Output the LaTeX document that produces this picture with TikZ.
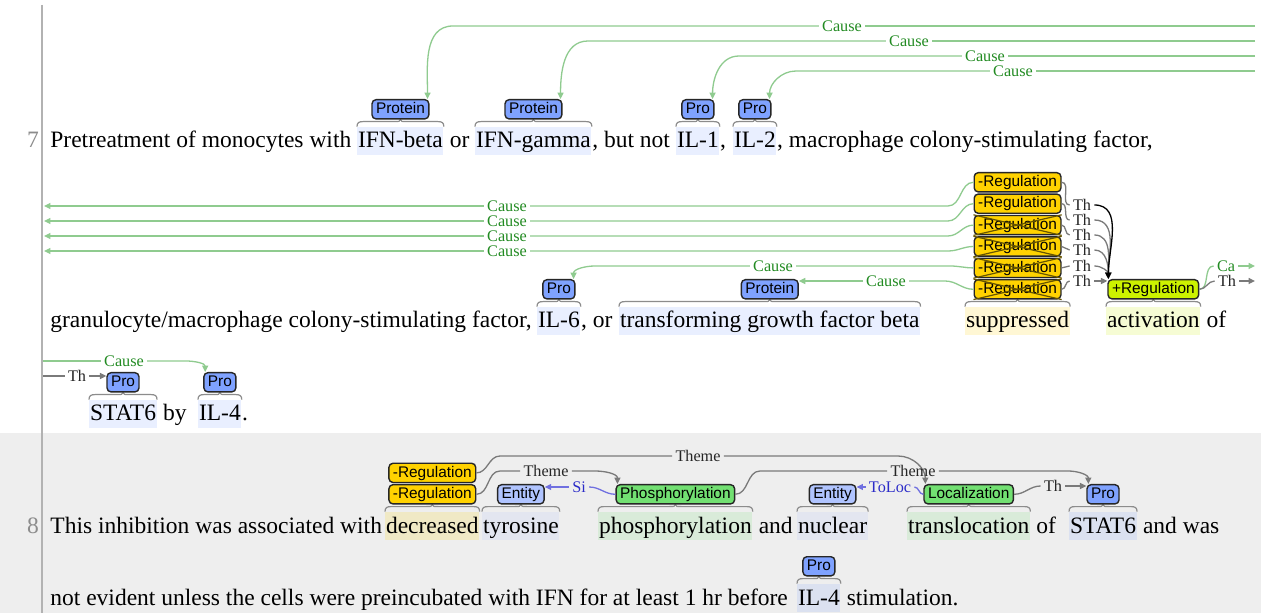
\documentclass[tikz,border=0pt]{standalone}
\usepackage{fontspec}
\setmainfont{Liberation Serif}
\newfontfamily\boxfont{Liberation Sans}
\usetikzlibrary{positioning,calc,arrows.meta}
\definecolor{prot}{HTML}{7FA2FF}
\definecolor{ent}{HTML}{B0C4FF}
\definecolor{neg}{HTML}{FFD200}
\definecolor{pos}{HTML}{CCF200}
\definecolor{evt}{HTML}{72E072}
\definecolor{bggray}{HTML}{EEEEEE}
\definecolor{boxline}{HTML}{262626}
\definecolor{causeln}{HTML}{8FCB8F}
\definecolor{causetxt}{HTML}{228B22}
\definecolor{thln}{HTML}{7A7A7A}
\definecolor{siteln}{HTML}{7070E0}
\definecolor{sitetxt}{HTML}{2B2BC8}
\begin{document}
\begin{tikzpicture}[x=.5pt,y=-.5pt,font=\fontsize{11.75pt}{14pt}\selectfont,
	>={Triangle[length=3.2pt,width=3pt]},
	txt/.style={inner sep=0pt,anchor=base west},
	hl/.style={txt,inner xsep=.3pt,text height=10.5pt,text depth=3.5pt,fill=#1,fill opacity=.17,text opacity=1},
	lbl/.style={draw=boxline,fill=#1,rounded corners=2pt,line width=.7pt,inner xsep=2pt,inner ysep=0pt,minimum height=9.6pt,text height=5.7pt,text depth=1.5pt,font=\boxfont\fontsize{7.7pt}{8pt}\selectfont},
	curly/.style={draw=black!45,line width=.6pt},
	cross/.style={draw=black!60!neg,line width=.6pt},
	cause/.style={draw=causeln,line width=.65pt},
	th/.style={draw=thln,line width=.65pt},
	site/.style={draw=siteln,line width=.65pt},
	causelbl/.style={inner sep=1.5pt,text=causetxt,font=\fontsize{8.1pt}{9pt}\selectfont},
	thlbl/.style={causelbl,text=black!85},
	silbl/.style={causelbl,text=sitetxt}]
	\useasboundingbox(0,0)rectangle(1261,613);
	\fill[white](0,0)rectangle(1261,433);
	\fill[bggray](0,433)rectangle(1261,613);
	\draw[black!30,line width=1pt](42,5)--(42,613);
	\node[text=black!45,anchor=base](n7)at(33,148){7};
	\node[text=black!45,anchor=base](n8)at(33,533){8};
	% sentence 7
	\node[txt](t1)at(50,148){Pretreatment of monocytes with};
	\node[hl=prot](ifnb)at(357,148){IFN-beta};
	\node[txt,base right=2.8pt of ifnb](t2){or};
	\node[hl=prot](ifng)at(475,148){IFN-gamma};
	\node[txt,base right=0pt of ifng](t3){, but not};
	\node[hl=prot](il1)at(676,148){IL-1};
	\node[txt,base right=0pt of il1](t4){,};
	\node[hl=prot](il2)at(733,148){IL-2};
	\node[txt,base right=0pt of il2](t5){, macrophage colony-stimulating factor,};
	\node[txt](t6)at(50,328){granulocyte/macrophage colony-stimulating factor,};
	\node[hl=prot](il6)at(537,328){IL-6};
	\node[txt,base right=0pt of il6](t7){, or};
	\node[hl=prot](tgf)at(619,328){transforming growth factor beta};
	\node[hl=neg](supp)at(965,328){suppressed};
	\node[hl=pos](actv)at(1106,328){activation};
	\node[txt,base right=2.8pt of actv](t8){of};
	\node[hl=prot](stat)at(89,421){STAT6};
	\node[txt,base right=2.8pt of stat](t9){by};
	\node[hl=prot](il4)at(198,421){IL-4};
	\node[txt,base right=0pt of il4](t10){.};
	% sentence 8
	\node[txt](t11)at(50,533){This inhibition was associated with};
	\node[hl=neg](decr)at(385,533){decreased};
	\node[hl=ent](tyro)at(482,533){tyrosine};
	\node[hl=evt](phos)at(598,533){phosphorylation};
	\node[txt,base right=2.8pt of phos](t12){and};
	\node[hl=ent](nucl)at(797,533){nuclear};
	\node[hl=evt](trans)at(907,533){translocation};
	\node[txt,base right=2.8pt of trans](t13){of};
	\node[hl=prot](stat2)at(1069,533){STAT6};
	\node[txt,base right=2.8pt of stat2](t14){and was};
	\node[txt](t15)at(50,605){not evident unless the cells were preincubated with IFN for at least 1 hr before};
	\node[hl=prot](il4b)at(797,605){IL-4};
	\node[txt,base right=2.8pt of il4b](t16){stimulation.};
	\foreach\n in {ifnb,ifng,il1,il2,il6,tgf,supp,actv,stat,il4,decr,tyro,phos,nucl,trans,stat2,il4b}{%
	\draw[curly](\n.north west).. controls +(0pt,2pt) and +(-2pt,0pt) ..++(3pt,2.5pt)--($(\n.north)+(-3pt,2.5pt)$)
		.. controls +(2pt,0pt) and +(0pt,-1pt) ..($(\n.north)+(0pt,3.5pt)$)
		.. controls +(0pt,-1pt) and +(-2pt,0pt) ..($(\n.north)+(3pt,2.5pt)$)--($(\n.north east)+(-3pt,2.5pt)$)
		.. controls +(2pt,0pt) and +(0pt,2pt) ..(\n.north east);}
	% boxes
	\node[lbl=prot,above=3.5pt of ifnb](pb1){Protein};
	\node[lbl=prot,above=3.5pt of ifng](pb2){Protein};
	\node[lbl=prot,above=3.5pt of il1](pb3){Pro};
	\node[lbl=prot,above=3.5pt of il2](pb4){Pro};
	\node[lbl=prot,above=3.5pt of il6](pb5){Pro};
	\node[lbl=prot,above=3.5pt of tgf](pb6){Protein};
	\node[lbl=neg,above=3.5pt of supp](R6){-Regulation};
	\foreach\i/\j in {5/6,4/5,3/4,2/3,1/2}{\node[lbl=neg,above=.4pt of R\j](R\i){-Regulation};}
	\foreach\i in {3,...,6}{\draw[cross](R\i.north west)--(R\i.south east)(R\i.south west)--(R\i.north east);}
	\node[lbl=pos,above=3.5pt of actv](pr){+Regulation};
	\node[lbl=prot,above=3.5pt of stat](pb7){Pro};
	\node[lbl=prot,above=3.5pt of il4](pb8){Pro};
	\node[lbl=neg,above=3.5pt of decr](RB){-Regulation};
	\node[lbl=neg,above=.4pt of RB](RA){-Regulation};
	\node[lbl=ent,above=3.5pt of tyro](en1){Entity};
	\node[lbl=evt,above=3.5pt of phos](ph){Phosphorylation};
	\node[lbl=ent,above=3.5pt of nucl](en2){Entity};
	\node[lbl=evt,above=3.5pt of trans](lo){Localization};
	\node[lbl=prot,above=3.5pt of stat2](pb9){Pro};
	\node[lbl=prot,above=3.5pt of il4b](pb10){Pro};
	% arcs, first line
	\foreach\y/\lx/\bx/\b in {26/842/453/pb1,41/909/588/pb2,56/985/739/pb3,71/1013/796/pb4}{%
	\coordinate(rt\y)at(1255,\y);
	\node[causelbl](c\b)at(\lx,\y){Cause};
	\draw[cause](rt\y)--(c\b.east);
	\draw[cause,->](c\b.west)--(\bx,\y)to[out=180,in=90]([xshift=-1pt]\b.north east);}
	% arcs, second line
	\foreach\i/\y in {1/206,2/221,3/236,4/251}{%
	\coordinate(lf\i)at(44,\y);
	\node[causelbl](k\i)at(507,\y){Cause};
	\draw[cause,->](k\i.west)--(lf\i);
	\draw[cause](R\i.west)to[out=180,in=0](948,\y)--(k\i.east);}
	\node[causelbl](k5)at(773,266){Cause};
	\draw[cause](R5.west)to[out=180,in=0](950,266)--(k5.east);
	\draw[cause,->](k5.west)--(595,266)to[out=180,in=90]([xshift=-1pt]pb5.north east);
	\node[causelbl](k6)at(886,281){Cause};
	\draw[cause](R6.west)to[out=180,in=0](945,281)--(k6.east);
	\draw[cause,->](k6.west)--(pb6.east|-k6.west);
	\foreach\i/\y in {1/205,2/220,3/235,4/250,5/266,6/281}{%
	\node[thlbl](h\i)at(1082,\y){Th};
	\draw[th](R\i.east)to[out=0,in=180](h\i.west);}
	\foreach\i in {2,...,5}{\draw[th,->](h\i.east)to[out=0,in=90]([xshift=.5pt]pr.north west);}
	\draw[black,line width=.65pt,->](h1.east)to[out=0,in=90]([xshift=.5pt]pr.north west);
	\draw[th,->](h6.east)--(pr.west|-h6.east);
	\coordinate(ca)at(1255,266);
	\coordinate(tr)at(1255,281);
	\node[causelbl](k7)at(1226,266){Ca};
	\node[thlbl](h7)at(1227,281){Th};
	\draw[cause](pr.east)to[out=0,in=180](k7.west);
	\draw[cause,->](k7.east)--(ca);
	\draw[th](pr.east)to[out=0,in=180](h7.west);
	\draw[th,->](h7.east)--(tr);
	% arcs, third line
	\coordinate(lc)at(43,361);
	\coordinate(lt)at(43,376);
	\node[causelbl](k8)at(124,361){Cause};
	\draw[cause](lc)--(k8.west);
	\draw[cause,->](k8.east)--(186,361)to[out=0,in=90]([xshift=1pt]pb8.north west);
	\node[thlbl](h8)at(77,376){Th};
	\draw[th](lt)--(h8.west);
	\draw[th,->](h8.east)--(pb7.west|-h8.east);
	% arcs, sentence 8
	\node[thlbl](m1)at(698,456){Theme};
	\draw[th](RA.east)to[out=0,in=180](500,456)--(m1.west);
	\draw[th,->](m1.east)--(898,456)to[out=0,in=90]([xshift=1pt]lo.north west);
	\node[thlbl](m2)at(546,471){Theme};
	\draw[th](RB.east)to[out=0,in=180](500,471)--(m2.west);
	\draw[th,->](m2.east)--(595,471)to[out=0,in=90]([xshift=1pt]ph.north west);
	\node[thlbl](m3)at(913,471){Theme};
	\draw[th](ph.east)to[out=0,in=180](760,471)--(m3.west);
	\draw[th,->](m3.east)--(1068,471)to[out=0,in=90]([xshift=1pt]pb9.north west);
	\node[silbl](s1)at(579,487){Si};
	\draw[site](ph.west)to[out=180,in=0](s1.east);
	\draw[site,->](s1.west)--(en1.east|-s1.west);
	\node[silbl](s2)at(890,487){ToLoc};
	\draw[site](lo.west)to[out=180,in=0](s2.east);
	\draw[site,->](s2.west)--(en2.east|-s2.west);
	\node[thlbl](h9)at(1053,486){Th};
	\draw[th](lo.east)to[out=0,in=180](h9.west);
	\draw[th,->](h9.east)--(pb9.west|-h9.east);
\end{tikzpicture}
\end{document}
